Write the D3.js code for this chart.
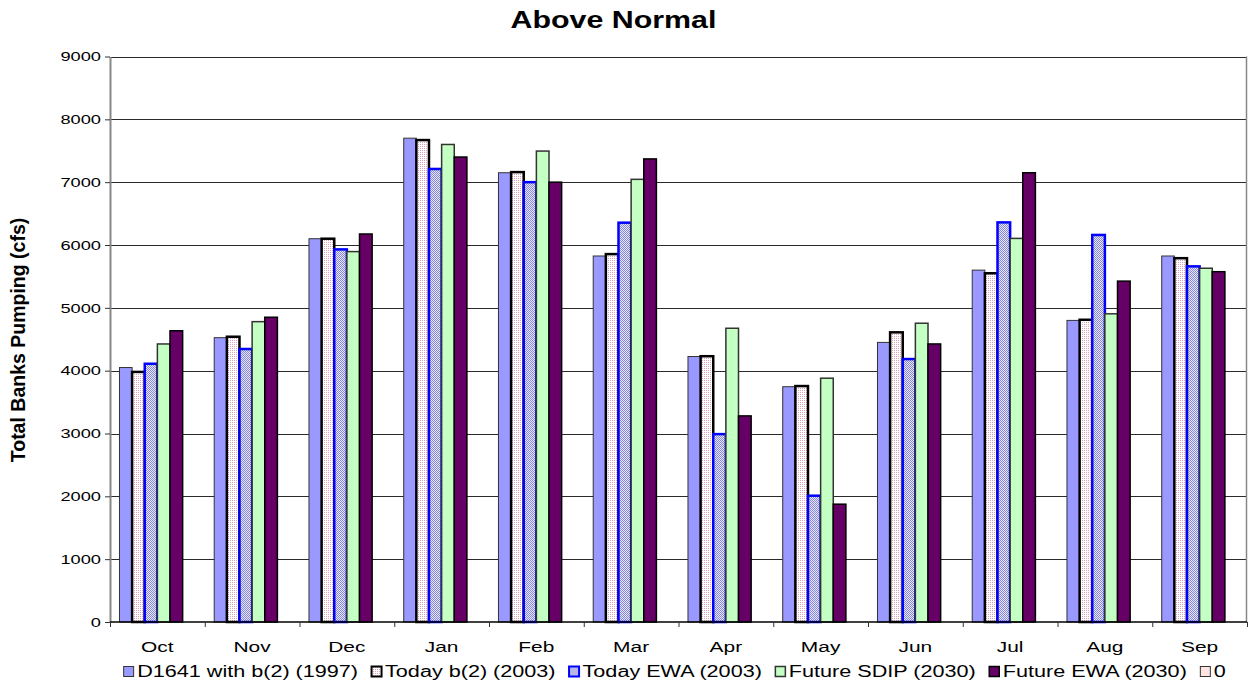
<!DOCTYPE html>
<html>
<head>
<meta charset="utf-8">
<script src="https://cdn.jsdelivr.net/npm/d3@7"></script>
<style>
  body { margin: 0; background: #fff; }
  text { font-family: Arial, "Liberation Sans", sans-serif; }
</style>
</head>
<body>
<div id="chart"></div>
<script>
// chart data
const months = ["Oct", "Nov", "Dec", "Jan", "Feb", "Mar", "Apr", "May", "Jun", "Jul", "Aug", "Sep"];
const seriesNames = ["D1641 with b(2) (1997)", "Today b(2) (2003)", "Today EWA (2003)",
  "Future SDIP (2030)", "Future EWA (2030)", "0"];
const d1641 = [4050, 4525, 6100, 7700, 7150, 5825, 4225, 3745, 4450, 5600, 4800, 5825];
const todayB2 = [3980, 4540, 6100, 7670, 7160, 5855, 4230, 3755, 4610, 5550, 4810, 5790];
const todayEWA = [4110, 4345, 5930, 7210, 7000, 6355, 2990, 2010, 4185, 6360, 6160, 5660];
const futureSDIP = [4425, 4780, 5895, 7600, 7495, 7045, 4675, 3880, 4755, 6105, 4905, 5630];
const futureEWA = [4635, 4850, 6175, 7400, 7000, 7370, 3280, 1875, 4425, 7150, 5425, 5575];
const zeroSeries = [0, 0, 0, 0, 0, 0, 0, 0, 0, 0, 0, 0];
const yTicks = [0, 1000, 2000, 3000, 4000, 5000, 6000, 7000, 8000, 9000];

const seriesValues = [d1641, todayB2, todayEWA, futureSDIP, futureEWA, zeroSeries];

// look of each series (fill may be a pattern)
const seriesStyle = [
  { fill: "#9999ff", stroke: "#333", width: 1 },
  { fill: "url(#patB2)", stroke: "#000", width: 2.5 },
  { fill: "url(#patEWA)", stroke: "#0000ff", width: 2.5 },
  { fill: "#c4ffc4", stroke: "#333", width: 1.5 },
  { fill: "#660066", stroke: "#000", width: 1.5 },
  { fill: "#ffe4e4", stroke: "#333", width: 1 }
];

const W = 1251, H = 686;
const margin = { top: 56.5, right: 4, bottom: 64, left: 110 };
const STRETCH = 1.35; // the text in the picture is drawn wide

const svg = d3.select("#chart").append("svg")
  .attr("width", W)
  .attr("height", H);

svg.append("rect").attr("width", W).attr("height", H).attr("fill", "#fff");

// patterns for the two hatched series
const defs = svg.append("defs");
const pB2 = defs.append("pattern").attr("id", "patB2")
  .attr("width", 2).attr("height", 2).attr("patternUnits", "userSpaceOnUse");
pB2.append("rect").attr("width", 2).attr("height", 2).attr("fill", "#fff");
pB2.append("rect").attr("width", 1).attr("height", 1).attr("fill", "#dca0b8");

const pEWA = defs.append("pattern").attr("id", "patEWA")
  .attr("width", 2).attr("height", 2).attr("patternUnits", "userSpaceOnUse");
pEWA.append("rect").attr("width", 2).attr("height", 2).attr("fill", "#e6e6ff");
pEWA.append("rect").attr("width", 1).attr("height", 1).attr("fill", "#8888cc");
pEWA.append("rect").attr("x", 1).attr("y", 1).attr("width", 1).attr("height", 1).attr("fill", "#8888cc");

// stretch text horizontally like the source, keeps the width on the node
function stretch(sel, k) {
  sel.each(function () {
    const len = this.getComputedTextLength() * k;
    this.__width = len;
    d3.select(this).attr("textLength", len).attr("lengthAdjust", "spacingAndGlyphs");
  });
}

const x0 = d3.scaleBand()
  .domain(months)
  .range([margin.left, W - margin.right])
  .paddingInner(0).paddingOuter(0);

const x1 = d3.scaleBand()
  .domain(seriesNames)
  .range([0, x0.bandwidth()])
  .paddingInner(0).paddingOuter(0.75);

const y = d3.scaleLinear()
  .domain([0, 9000])
  .range([H - margin.bottom, margin.top]);

// gridlines
svg.append("g")
  .selectAll("line")
  .data(yTicks.filter(d => d > 0))
  .enter().append("line")
  .attr("x1", margin.left).attr("x2", W - margin.right)
  .attr("y1", d => Math.round(y(d)) + 0.5).attr("y2", d => Math.round(y(d)) + 0.5)
  .attr("stroke", "#2a2a2a").attr("stroke-width", 1);

// right border of plot area
svg.append("line")
  .attr("x1", W - margin.right - 0.5).attr("x2", W - margin.right - 0.5)
  .attr("y1", y(9000)).attr("y2", y(0))
  .attr("stroke", "#888").attr("stroke-width", 1.5);

// bars
const bars = [];
seriesNames.forEach(function (name, si) {
  seriesValues[si].forEach(function (v, mi) {
    if (v > 0) bars.push({ series: name, si: si, month: months[mi], value: v });
  });
});

svg.append("g")
  .selectAll("rect")
  .data(bars)
  .enter().append("rect")
  .attr("x", d => x0(d.month) + x1(d.series))
  .attr("y", d => y(d.value))
  .attr("width", x1.bandwidth())
  .attr("height", d => y(0) - y(d.value))
  .attr("fill", d => seriesStyle[d.si].fill)
  .attr("stroke", d => seriesStyle[d.si].stroke)
  .attr("stroke-width", d => seriesStyle[d.si].width);

// y axis
const yAxis = svg.append("g")
  .attr("transform", "translate(" + margin.left + ",0)")
  .call(d3.axisLeft(y).tickValues(yTicks).tickSize(5).tickSizeOuter(0).tickFormat(d3.format("d")));
yAxis.select(".domain").attr("stroke", "#888").attr("stroke-width", 2);
yAxis.selectAll(".tick line").attr("stroke", "#333");
yAxis.selectAll("text")
  .attr("x", -9)
  .attr("font-size", "13.5px")
  .attr("fill", "#000")
  .call(stretch, STRETCH);

// x axis, ticks at the category boundaries
const xAxis = svg.append("g")
  .attr("transform", "translate(0," + y(0) + ")");
xAxis.append("line")
  .attr("x1", margin.left).attr("x2", W - margin.right)
  .attr("stroke", "#000").attr("stroke-width", 1.5);
xAxis.selectAll(".bt")
  .data(months.concat(["end"]))
  .enter().append("line")
  .attr("class", "bt")
  .attr("x1", (d, i) => margin.left + i * x0.step() + 0.5)
  .attr("x2", (d, i) => margin.left + i * x0.step() + 0.5)
  .attr("y1", 0).attr("y2", 5)
  .attr("stroke", "#333");
xAxis.selectAll(".ml")
  .data(months)
  .enter().append("text")
  .attr("class", "ml")
  .attr("x", d => x0(d) + x0.bandwidth() / 2)
  .attr("y", 30)
  .attr("text-anchor", "middle")
  .attr("font-size", "15.5px")
  .text(d => d)
  .call(stretch, STRETCH);

// title
svg.append("text")
  .attr("x", 613.5)
  .attr("y", 27.5)
  .attr("text-anchor", "middle")
  .attr("font-size", "23px")
  .attr("font-weight", "bold")
  .text("Above Normal")
  .call(stretch, 1.32);

// y axis label
svg.append("text")
  .attr("transform", "translate(25," + 340 + ") rotate(-90)")
  .attr("text-anchor", "middle")
  .attr("font-size", "19.5px")
  .attr("font-weight", "bold")
  .text("Total Banks Pumping (cfs)");

// legend
const legend = svg.append("g");
const box = 10, boxGap = 4, itemGap = 13;
let cursor = 0;
seriesNames.forEach(function (name, i) {
  const g = legend.append("g").attr("transform", "translate(" + cursor + ",0)");
  g.append("rect")
    .attr("x", 0.5).attr("y", -10.5)
    .attr("width", box).attr("height", box)
    .attr("fill", seriesStyle[i].fill)
    .attr("stroke", seriesStyle[i].stroke)
    .attr("stroke-width", Math.min(seriesStyle[i].width, 2));
  const t = g.append("text")
    .attr("x", box + boxGap)
    .attr("y", 0)
    .attr("font-size", "16px")
    .text(name)
    .call(stretch, STRETCH);
  cursor += box + boxGap + t.node().__width + itemGap;
});
cursor -= itemGap;
legend.attr("transform", "translate(" + (674.5 - cursor / 2) + ",677)");
</script>
</body>
</html>
